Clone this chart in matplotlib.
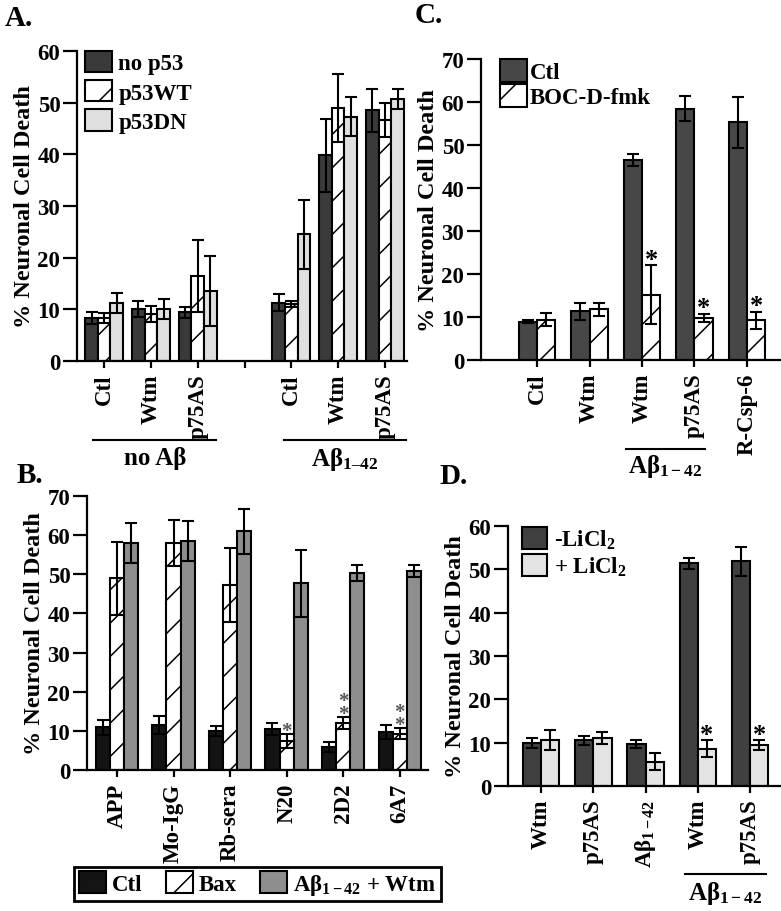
import matplotlib
matplotlib.use('Agg')
import matplotlib.pyplot as plt
import numpy as np
from matplotlib.transforms import blended_transform_factory

plt.rcParams['font.family'] = ['Liberation Serif', 'DejaVu Serif']
plt.rcParams['font.weight'] = 'bold'
plt.rcParams['mathtext.fontset'] = 'custom'
plt.rcParams['mathtext.rm'] = 'Liberation Serif:bold'
plt.rcParams['mathtext.it'] = 'Liberation Serif:bold:italic'
plt.rcParams['mathtext.bf'] = 'Liberation Serif:bold'
plt.rcParams['hatch.linewidth'] = 1.1
plt.rcParams['axes.linewidth'] = 1.6

AB = 'Aβ$_{\\mathregular{1-42}}$'

# ---- panel A data
a_labels = ['Ctl', 'Wtm', 'p75AS', '', 'Ctl', 'Wtm', 'p75AS']
a_pos = [0, 1, 2, 4, 5, 6]
a_nop53 = [8.3, 10.1, 9.4, 11.3, 39.8, 48.5]
a_nop53_err = [1.1, 1.6, 1.0, 1.7, 7.0, 4.2]
a_wt = [8.3, 9.1, 16.4, 11.0, 49.0, 46.7]
a_wt_err = [1.0, 1.6, 7.0, 0.6, 6.6, 3.3]
a_dn = [11.2, 10.1, 13.5, 24.5, 47.3, 50.7]
a_dn_err = [1.9, 1.9, 6.8, 6.7, 3.8, 1.9]

# ---- panel B data
b_labels = ['APP', 'Mo-IgG', 'Rb-sera', 'N20', '2D2', '6A7']
b_ctl = [10.9, 11.5, 10.0, 10.5, 5.9, 9.6]
b_ctl_err = [2.0, 2.4, 1.3, 1.5, 1.3, 1.8]
b_bax = [49.0, 58.0, 47.2, 7.4, 12.0, 9.3]
b_bax_err = [9.3, 5.8, 9.5, 1.7, 1.6, 1.5]
b_wtm = [58.0, 58.5, 61.0, 47.7, 50.3, 50.9]
b_wtm_err = [5.0, 5.0, 5.8, 8.5, 2.0, 1.6]
b_stars = ['', '', '', '*', '*\n*', '*\n*']

# ---- panel C data
c_labels = ['Ctl', 'Wtm', 'Wtm', 'p75AS', 'R-Csp-6']
c_ctl = [8.9, 11.3, 46.6, 58.4, 55.3]
c_ctl_err = [0.3, 2.0, 1.4, 2.9, 5.9]
c_boc = [9.4, 11.8, 15.2, 9.8, 9.2]
c_boc_err = [1.5, 1.5, 6.8, 1.0, 2.0]
c_stars = ['', '', '*', '*', '*']

# ---- panel D data
d_labels = ['Wtm', 'p75AS', AB, 'Wtm', 'p75AS']
d_minus = [9.9, 10.5, 9.6, 51.4, 51.8]
d_minus_err = [1.1, 1.0, 0.9, 1.3, 3.3]
d_plus = [10.5, 11.0, 5.6, 8.6, 9.4]
d_plus_err = [2.3, 1.4, 2.0, 1.9, 1.2]
d_stars = ['', '', '', '*', '*']

TICK = 16.5
YLAB = 17.5
XT = 16.5
LEG = 16.5


def bars(ax, pos, vals, errs, off, w, label, **kw):
    x = np.array(pos, dtype=float) + off
    return ax.bar(x, vals, w, yerr=errs, edgecolor='black', linewidth=1.5,
                  label=label, capsize=4,
                  error_kw=dict(elinewidth=1.5, capthick=1.5, ecolor='black'),
                  **kw)


def style(ax, ylim, yticks, xlim, xticks, xlabels):
    ax.spines['top'].set_visible(False)
    ax.spines['right'].set_visible(False)
    ax.set_ylim(*ylim)
    ax.set_xlim(*xlim)
    ax.set_yticks(yticks)
    ax.set_xticks(xticks)
    ax.set_xticklabels(xlabels, rotation=90, fontsize=XT, fontweight='bold')
    ax.tick_params(axis='y', direction='out', length=10, width=1.6,
                   labelsize=TICK, pad=2)
    ax.tick_params(axis='x', direction='out', length=5, width=1.6, pad=4)
    for t in ax.get_yticklabels():
        t.set_fontweight('bold')
    ax.set_ylabel('% Neuronal Cell Death', fontsize=YLAB, fontweight='bold',
                  labelpad=2)


def stars(ax, pos, vals, errs, marks, color='black', size=19, dy=-4):
    for p, v, e, m in zip(pos, vals, errs, marks):
        if m:
            ax.annotate(m, (p, v + e), xytext=(0, dy), textcoords='offset points',
                        ha='center', va='bottom', fontsize=size, color=color,
                        linespacing=0.5)


def group(ax, x0, x1, yline, text, ytext):
    tr = blended_transform_factory(ax.transData, ax.transAxes)
    ax.plot([x0, x1], [yline, yline], color='black', lw=1.5, transform=tr,
            clip_on=False)
    ax.text((x0 + x1) / 2, ytext, text, transform=tr, ha='center', va='center',
            fontsize=18, fontweight='bold')


fig = plt.figure(figsize=(7.81, 9.12), dpi=100)

# ================= A
axA = fig.add_axes([0.0986, 0.6031, 0.4225, 0.3399])
w = 0.27
hA1 = bars(axA, a_pos, a_nop53, a_nop53_err, -w, w, 'no p53', color='#3a3a3a')
hA2 = bars(axA, a_pos, a_wt, a_wt_err, 0, w, 'p53WT', color='white', hatch='/')
hA3 = bars(axA, a_pos, a_dn, a_dn_err, w, w, 'p53DN', color='#e0e0e0')
style(axA, (0, 60), range(0, 61, 10), (-0.58, 6.47), range(7), a_labels)
axA.legend(handles=[hA1, hA2, hA3], loc='upper left', bbox_to_anchor=(0.025, 1.0),
           frameon=False, fontsize=LEG, handlelength=1.15, handleheight=1.05,
           labelspacing=0.25, handletextpad=0.3, borderaxespad=0, borderpad=0)
group(axA, -0.24, 2.4, -0.255, 'no Aβ', -0.31)
group(axA, 3.85, 6.45, -0.255, 'Aβ$_{\\mathregular{1–42}}$', -0.315)

# ================= C
axC = fig.add_axes([0.6159, 0.6042, 0.3828, 0.33])
w = 0.35
c_pos = range(len(c_labels))
hC1 = bars(axC, c_pos, c_ctl, c_ctl_err, -w / 2, w, 'Ctl', color='#474747')
hC2 = bars(axC, c_pos, c_boc, c_boc_err, w / 2, w, 'BOC-D-fmk', color='white',
           hatch='/')
stars(axC, np.array(c_pos) + w / 2, c_boc, c_boc_err, c_stars)
style(axC, (0, 70), range(0, 71, 10), (-1.07, 4.63), c_pos, c_labels)
axC.legend(handles=[hC1, hC2], loc='upper left', bbox_to_anchor=(0.063, 1.0),
           frameon=False, fontsize=LEG, handlelength=1.2, handleheight=1.15,
           labelspacing=0.05, handletextpad=0.12, borderaxespad=0, borderpad=0)
group(axC, 1.7, 3.2, -0.296, AB, -0.35)

# ================= B
axB = fig.add_axes([0.1114, 0.1546, 0.4366, 0.3004])
w = 0.25
b_pos = range(len(b_labels))
hB1 = bars(axB, b_pos, b_ctl, b_ctl_err, -w, w, 'Ctl', color='#141414')
hB2 = bars(axB, b_pos, b_bax, b_bax_err, 0, w, 'Bax', color='white', hatch='/')
hB3 = bars(axB, b_pos, b_wtm, b_wtm_err, w, w, AB + ' + Wtm', color='#8e8e8e')
stars(axB, b_pos, b_bax, b_bax_err, b_stars, color='#555555', size=15, dy=-5)
style(axB, (0, 70), range(0, 71, 10), (-0.53, 5.5), b_pos, b_labels)
legB = fig.legend(handles=[hB1, hB2, hB3], loc='center',
                  bbox_to_anchor=(0.3297, 0.0296), ncol=3, fontsize=LEG,
                  frameon=True, fancybox=False, edgecolor='black', framealpha=1,
                  handlelength=1.2, handleheight=1.1, handletextpad=0.25,
                  columnspacing=1.0, borderpad=0.2)
legB.get_frame().set_linewidth(2)

# ================= D
axD = fig.add_axes([0.6504, 0.1371, 0.3483, 0.2851])
w = 0.35
d_pos = range(len(d_labels))
hD1 = bars(axD, d_pos, d_minus, d_minus_err, -w / 2, w,
           '-LiCl$_{\\mathregular{2}}$', color='#404040')
hD2 = bars(axD, d_pos, d_plus, d_plus_err, w / 2, w,
           '+ LiCl$_{\\mathregular{2}}$', color='#e4e4e4')
stars(axD, np.array(d_pos) + w / 2, d_plus, d_plus_err, d_stars)
style(axD, (0, 60), range(0, 61, 10), (-0.63, 4.57), d_pos, d_labels)
axD.legend(handles=[hD1, hD2], loc='upper left', bbox_to_anchor=(0.051, 0.995),
           frameon=False, fontsize=LEG, handlelength=1.1, handleheight=1.1,
           labelspacing=0.1, handletextpad=0.3, borderaxespad=0, borderpad=0)
group(axD, 2.75, 4.3, -0.34, AB, -0.41)

# panel letters
fig.text(0.006, 0.980, 'A.', fontsize=21, fontweight='bold', va='center')
fig.text(0.531, 0.983, 'C.', fontsize=21, fontweight='bold', va='center')
fig.text(0.021, 0.479, 'B.', fontsize=21, fontweight='bold', va='center')
fig.text(0.563, 0.477, 'D.', fontsize=21, fontweight='bold', va='center')

fig.savefig('out.png', dpi=100)
